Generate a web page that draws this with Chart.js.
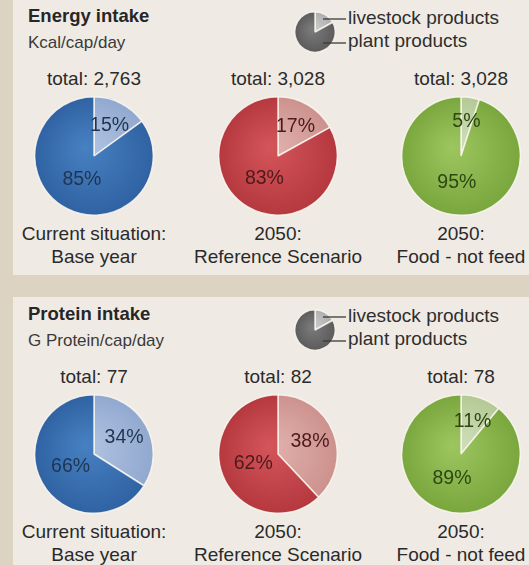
<!DOCTYPE html>
<html>
<head>
<meta charset="utf-8">
<script src="https://cdn.jsdelivr.net/npm/chart.js@4/dist/chart.umd.min.js"></script>
<style>
  html, body { margin: 0; padding: 0; }
  body {
    width: 529px; height: 565px; overflow: hidden; position: relative;
    background: #dcd3c3;
    font-family: "Liberation Sans", Arial, sans-serif; color: #2a2a2a;
  }
  .panel { position: absolute; left: 13px; width: 516px; background: #efebe4; }
  .abs { position: absolute; white-space: nowrap; line-height: 22px; }
  .title { font-size: 18.5px; font-weight: bold; color: #262626; }
  .sub { font-size: 17px; color: #3a3a3a; }
  .key { font-size: 19px; color: #2e2e2e; }
  .total { font-size: 19px; text-align: center; width: 160px; }
  .scen { font-size: 19px; text-align: center; width: 190px; line-height: 23px; }
  canvas { position: absolute; }
</style>
</head>
<body>
<div class="panel" style="top:0; height:275px;"></div>
<div class="panel" style="top:297px; height:268px;"></div>

<script>
// --- data ---
const categories = ['livestock products', 'plant products'];
const scenarioTop = ['Current situation:', '2050:', '2050:'];
const scenarioBottom = ['Base year', 'Reference Scenario', 'Food - not feed'];

const energyLivestock = [15, 17, 5];
const energyPlant = [85, 83, 95];
const energyTotals = ['2,763', '3,028', '3,028'];

const proteinLivestock = [34, 38, 11];
const proteinPlant = [66, 62, 89];
const proteinTotals = ['77', '82', '78'];

// grey key symbol next to the legend text
const keyShares = [17, 83];

// shading per scenario: [livestock inner, livestock outer, plant inner, plant outer, label]
const palettes = [
  ['#b2c4e2', '#91a8cf', '#4781c2', '#2f62a2', '#1f3552'],
  ['#e2b3ae', '#cc918d', '#d4565b', '#b5383f', '#4d1a1a'],
  ['#d2e0bd', '#b3c994', '#9dc65f', '#7aa63e', '#2c4712']
];
const keyPalette = ['#cfcfcf', '#acacac', '#7c7c7c', '#5a5a5a'];

function radial(chart, inner, outer) {
  const a = chart.chartArea;
  if (!a) return outer;
  const cx = (a.left + a.right) / 2, cy = (a.top + a.bottom) / 2;
  const r = Math.min(a.right - a.left, a.bottom - a.top) / 2;
  const g = chart.ctx.createRadialGradient(cx - r * 0.15, cy - r * 0.15, 0, cx, cy, r);
  g.addColorStop(0, inner);
  g.addColorStop(1, outer);
  return g;
}

// percent labels inside the slices
const sliceLabels = {
  id: 'sliceLabels',
  afterDatasetsDraw(chart, args, opts) {
    if (!opts.show) return;
    const ctx = chart.ctx;
    const meta = chart.getDatasetMeta(0);
    const vals = chart.data.datasets[0].data;
    ctx.save();
    ctx.font = '19.5px "Liberation Sans", Arial, sans-serif';
    ctx.fillStyle = opts.color;
    ctx.textAlign = 'center';
    ctx.textBaseline = 'middle';
    meta.data.forEach((arc, i) => {
      const p = arc.getProps(['x', 'y', 'startAngle', 'endAngle', 'outerRadius'], true);
      const mid = (p.startAngle + p.endAngle) / 2;
      const r = p.outerRadius * (i === 0 ? 0.58 : 0.45);
      ctx.fillText(vals[i] + '%', p.x + Math.cos(mid) * r, p.y + Math.sin(mid) * r);
    });
    ctx.restore();
  }
};

// leader lines from the key pie to its labels
const keyLines = {
  id: 'keyLines',
  afterDatasetsDraw(chart, args, opts) {
    if (!opts.show) return;
    const arc = chart.getDatasetMeta(0).data[0];
    const ctx = chart.ctx;
    ctx.save();
    ctx.strokeStyle = '#3a3a3a';
    ctx.lineWidth = 1.3;
    opts.rows.forEach(y => {
      ctx.beginPath();
      ctx.moveTo(arc.x + 8, y);
      ctx.lineTo(chart.width, y);
      ctx.stroke();
    });
    ctx.restore();
  }
};

function addText(cls, x, y, text) {
  const d = document.createElement('div');
  d.className = 'abs ' + cls;
  d.style.left = x + 'px';
  d.style.top = y + 'px';
  d.textContent = text;
  document.body.appendChild(d);
  return d;
}

function addCanvas(x, y, w, h) {
  const c = document.createElement('canvas');
  c.width = w; c.height = h;
  c.style.left = x + 'px'; c.style.top = y + 'px';
  c.style.width = w + 'px'; c.style.height = h + 'px';
  document.body.appendChild(c);
  return c;
}

function pie(canvas, values, pal, labelled, padding, lines) {
  return new Chart(canvas, {
    type: 'pie',
    data: {
      labels: categories,
      datasets: [{
        data: values,
        backgroundColor: c => c.dataIndex === 0
          ? radial(c.chart, pal[0], pal[1])
          : radial(c.chart, pal[2], pal[3]),
        borderColor: 'rgba(250,247,240,0.85)',
        borderWidth: 1.5
      }]
    },
    options: {
      responsive: false,
      animation: false,
      layout: { padding: padding || 0 },
      plugins: {
        legend: { display: false },
        tooltip: { enabled: false },
        sliceLabels: { show: labelled, color: pal[4] },
        keyLines: { show: !!lines, rows: lines || [] }
      }
    },
    plugins: [sliceLabels, keyLines]
  });
}

const centers = [94, 278, 461];
const radius = 59;

function block(top, title, sub, livestock, plant, totals) {
  addText('title', 28, top + 5, title);
  addText('sub', 28, top + 32, sub);

  // key pie (centre 315, r 20) with leader lines
  const key = addCanvas(294, top + 11, 52, 42);
  pie(key, keyShares, keyPalette, false, { right: 10 }, [8, 32]);
  addText('key', 348, top + 7, categories[0]);
  addText('key', 348, top + 30, categories[1]);

  const pieY = top + 156;
  centers.forEach((cx, i) => {
    addText('total', cx - 80, pieY - 88, 'total: ' + totals[i]);
    const size = radius * 2 + 2;
    const c = addCanvas(cx - size / 2, pieY - size / 2, size, size);
    pie(c, [livestock[i], plant[i]], palettes[i], true);
    const s = addText('scen', cx - 95, pieY + 66, '');
    s.innerHTML = scenarioTop[i] + '<br>' + scenarioBottom[i];
  });
}

block(0, 'Energy intake', 'Kcal/cap/day', energyLivestock, energyPlant, energyTotals);
block(298, 'Protein intake', 'G Protein/cap/day', proteinLivestock, proteinPlant, proteinTotals);
</script>
</body>
</html>
